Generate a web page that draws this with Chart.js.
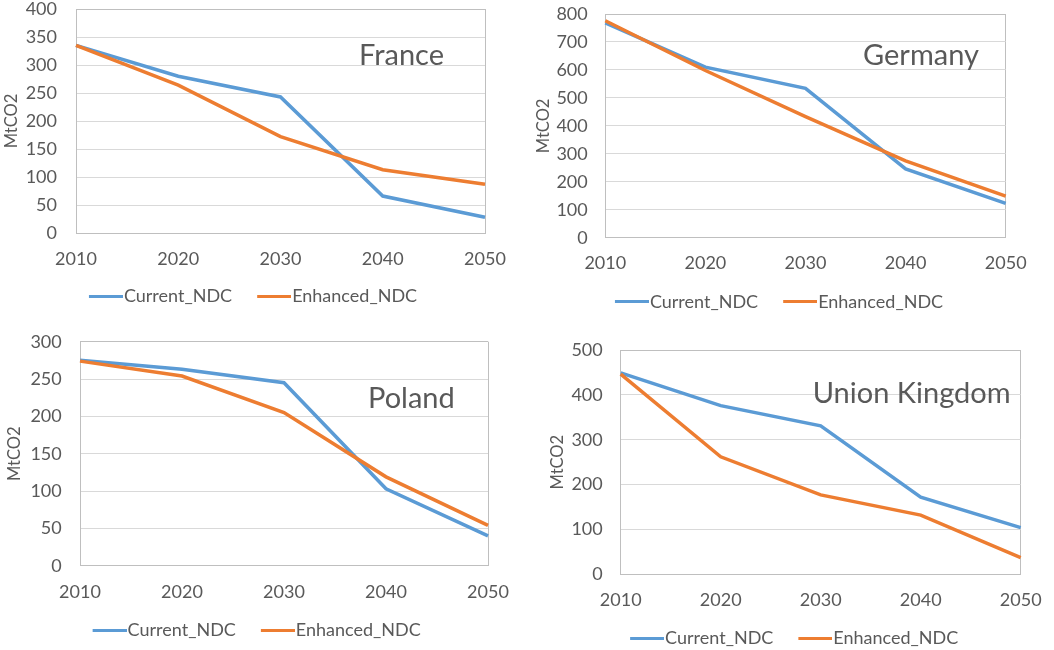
<!DOCTYPE html>
<html><head><meta charset="utf-8">
<script src="https://cdn.jsdelivr.net/npm/chart.js@4.4.1/dist/chart.umd.min.js"></script>
<style>
html,body{margin:0;padding:0;background:#fff;overflow:hidden;width:1054px;height:650px;}
canvas{position:absolute;}
</style></head><body>
<canvas id="c0" width="520" height="340" style="left:0px;top:0px"></canvas>
<canvas id="c1" width="534" height="340" style="left:520px;top:0px"></canvas>
<canvas id="c2" width="520" height="340" style="left:0px;top:320px"></canvas>
<canvas id="c3" width="534" height="340" style="left:520px;top:320px"></canvas>
<script>
// ---- data ----
const years = ['2010', '2020', '2030', '2040', '2050'];
const seriesNames = ['Current_NDC', 'Enhanced_NDC'];
const countries = ['France', 'Germany', 'Poland', 'Union Kingdom'];
const franceCurrent = [335, 280, 243, 66, 28];
const franceEnhanced = [335, 264, 172, 113, 87];
const germanyCurrent = [768, 610, 534, 246, 123];
const germanyEnhanced = [776, 598, 433, 275, 149];
const polandCurrent = [275, 263, 245, 103, 40];
const polandEnhanced = [274, 254, 205, 119, 54];
const ukCurrent = [449, 376, 331, 172, 104];
const ukEnhanced = [446, 262, 177, 132, 37];
const yMaxes = [400, 800, 300, 500];
const ySteps = [50, 100, 50, 100];
const yTitle = 'MtCO2';

const currentSeries = [franceCurrent, germanyCurrent, polandCurrent, ukCurrent];
const enhancedSeries = [franceEnhanced, germanyEnhanced, polandEnhanced, ukEnhanced];

// ---- styling / layout ----
const BLUE = '#5B9BD5', ORANGE = '#ED7D31', TEXT = '#595959';
const GRID = '#d9d9d9', FRAME = '#bfbfbf';
const FONT = 'Lato';
const TICK_SIZE = 18, LEGEND_SIZE = 18, AXIS_TITLE_SIZE = 16.5, LABEL_SIZE = 29;

const layouts = [
  {pad:{left:14,right:35,top:9,bottom:25}, yW:62, xH:36, yTickPad:19, xTickPad:17, titlePad:-11.9, label:{x:359,y:65}},
  {pad:{left:25.3,right:48.3,top:14,bottom:19.3}, yW:60, xH:37, yTickPad:17.6, xTickPad:16.6, titlePad:-11.9, label:{x:343,y:65}},
  {pad:{left:18.4,right:32,top:21.7,bottom:11}, yW:61.6, xH:37.3, yTickPad:18.3, xTickPad:17, titlePad:-13.3, label:{x:368,y:88}},
  {pad:{left:40.7,right:33.3,top:30,bottom:2.7}, yW:60, xH:37, yTickPad:18, xTickPad:16.7, titlePad:-12.9, label:{x:292.7,y:83}}
];

// legend line sample: 34px visible line on the right part of a 49px image
function lineSwatch(color) {
  const c = document.createElement('canvas');
  c.width = 49; c.height = 3;
  const g = c.getContext('2d');
  g.fillStyle = color; g.fillRect(15, 0, 34, 3);
  return c;
}
const blueSwatch = lineSwatch(BLUE), orangeSwatch = lineSwatch(ORANGE);

const countryLabel = {
  id: 'countryLabel',
  afterDraw(chart, args, opts) {
    const ctx = chart.ctx;
    ctx.save();
    ctx.font = LABEL_SIZE + 'px ' + FONT;
    ctx.fillStyle = TEXT;
    ctx.textAlign = 'left';
    ctx.textBaseline = 'alphabetic';
    ctx.fillText(opts.text, opts.x, opts.y);
    ctx.restore();
  }
};

countries.forEach((name, i) => {
  const L = layouts[i];
  new Chart(document.getElementById('c' + i), {
    type: 'line',
    plugins: [countryLabel],
    data: {
      labels: years,
      datasets: [
        {label: seriesNames[0], data: currentSeries[i], borderColor: BLUE, backgroundColor: BLUE,
         borderWidth: 3.5, pointRadius: 0, pointStyle: blueSwatch, tension: 0, order: 1},
        {label: seriesNames[1], data: enhancedSeries[i], borderColor: ORANGE, backgroundColor: ORANGE,
         borderWidth: 3.5, pointRadius: 0, pointStyle: orangeSwatch, tension: 0, order: 0}
      ]
    },
    options: {
      responsive: false,
      animation: false,
      devicePixelRatio: 1,
      layout: {padding: L.pad},
      plugins: {
        tooltip: {enabled: false},
        title: {display: false},
        countryLabel: {text: name, x: L.label.x, y: L.label.y},
        legend: {
          position: 'bottom',
          labels: {
            usePointStyle: true,
            pointStyleWidth: 33,
            padding: 18,
            color: TEXT,
            font: {family: FONT, size: LEGEND_SIZE},
            sort: (a, b) => a.datasetIndex - b.datasetIndex
          }
        }
      },
      scales: {
        x: {
          offset: false,
          grid: {
            drawTicks: false,
            color: (c) => (c.index === years.length - 1 ? FRAME : 'rgba(0,0,0,0)')
          },
          border: {color: FRAME},
          ticks: {color: TEXT, font: {family: FONT, size: TICK_SIZE, lineHeight: 1}, padding: L.xTickPad, maxRotation: 0, autoSkip: false},
          afterFit: (s) => { s.height = L.xH; s.paddingLeft = 0; s.paddingRight = 0; s.paddingTop = 0; s.paddingBottom = 0; }
        },
        y: {
          min: 0, max: yMaxes[i],
          grid: {
            drawTicks: false,
            color: (c) => (c.tick && c.tick.value === yMaxes[i] ? FRAME : GRID)
          },
          border: {color: FRAME},
          ticks: {stepSize: ySteps[i], color: TEXT, font: {family: FONT, size: TICK_SIZE}, padding: L.yTickPad},
          title: {display: true, text: yTitle, color: TEXT, font: {family: FONT, size: AXIS_TITLE_SIZE}, padding: {top: L.titlePad, bottom: 0}},
          afterFit: (s) => { s.width = L.yW; s.paddingLeft = 0; s.paddingRight = 0; s.paddingTop = 0; s.paddingBottom = 0; }
        }
      }
    }
  });
});
</script>
</body></html>
